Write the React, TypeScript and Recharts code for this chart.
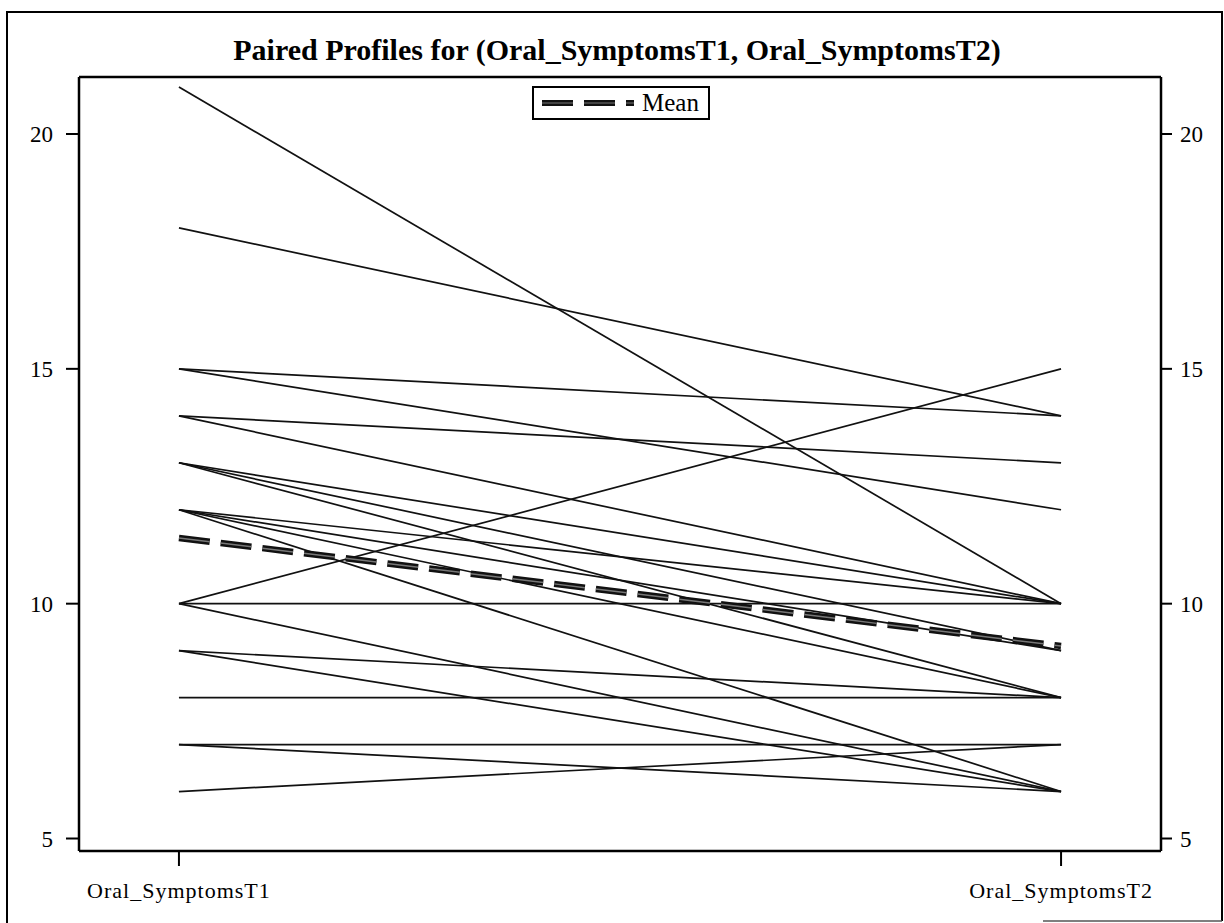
import React from 'react';
import { LineChart, Line, XAxis, YAxis } from 'recharts';

const timeLabels = ['Oral_SymptomsT1', 'Oral_SymptomsT2'];
const t1Values = [21, 18, 15, 15, 14, 14, 13, 13, 13, 12, 12, 12, 12, 10, 10, 10, 9, 9, 8, 7, 7, 6];
const t2Values = [10, 14, 14, 12, 13, 10, 10, 9, 8, 10, 9, 8, 6, 15, 10, 6, 8, 6, 8, 7, 6, 7];
const meanValues = [11.4, 9.1];
const yTicks = [5, 10, 15, 20];
const titleText = 'Paired Profiles for (Oral_SymptomsT1, Oral_SymptomsT2)';
const legendLabel = 'Mean';

const data = timeLabels.map((label, i) => {
  const row: Record<string, number | string> = { x: i, label, mean: meanValues[i] };
  (i === 0 ? t1Values : t2Values).forEach((v, k) => {
    row['s' + k] = v;
  });
  return row;
});

const FONT = "'Liberation Serif', 'Times New Roman', serif";
const Y_DOMAIN: [number, number] = [4.734, 21.214];
const X_DOMAIN: [number, number] = [-0.1133, 1.1133];

const LegendBox = () => (
  <div
    style={{
      position: 'absolute',
      left: 532,
      top: 86,
      border: '2px solid #000',
      background: '#fff',
      width: 174,
      height: 30,
      display: 'flex',
      alignItems: 'center',
      boxSizing: 'content-box',
    }}
  >
    <svg width={100} height={20} style={{ marginLeft: 6 }}>
      <line x1={2} y1={10} x2={94} y2={10} stroke="#111" strokeWidth={6} strokeDasharray="31 11" />
      <line x1={2} y1={10} x2={94} y2={10} stroke="#777" strokeWidth={1.2} strokeDasharray="31 11" />
    </svg>
    <span style={{ fontFamily: FONT, fontSize: 25, color: '#000', marginLeft: 2, lineHeight: '30px' }}>
      {legendLabel}
    </span>
  </div>
);

export default function App() {
  return (
    <div style={{ position: 'absolute', left: 0, top: 0, width: 1224, height: 923, background: '#fff' }}>
      <LineChart
        width={1224}
        height={923}
        data={data}
        margin={{ top: 76, right: 0, bottom: 0, left: 0 }}
      >
        <XAxis
          xAxisId="top"
          orientation="top"
          type="number"
          dataKey="x"
          domain={X_DOMAIN}
          height={1}
          tick={false}
          tickLine={false}
          axisLine={{ stroke: '#000', strokeWidth: 2.5 }}
        />
        <XAxis
          type="number"
          dataKey="x"
          domain={X_DOMAIN}
          ticks={[0, 1]}
          tickFormatter={(v: number) => timeLabels[v] ?? ''}
          height={72}
          tickSize={15}
          tickMargin={16}
          axisLine={{ stroke: '#000', strokeWidth: 2.5 }}
          tickLine={{ stroke: '#000', strokeWidth: 2 }}
          tick={{ fontFamily: FONT, fontSize: 22, fill: '#000', letterSpacing: 1 }}
          interval={0}
        />
        <YAxis
          yAxisId="left"
          type="number"
          domain={Y_DOMAIN}
          ticks={yTicks}
          width={79}
          tickSize={13}
          tickMargin={13}
          axisLine={{ stroke: '#000', strokeWidth: 2.5 }}
          tickLine={{ stroke: '#000', strokeWidth: 2 }}
          tick={{ fontFamily: FONT, fontSize: 23, fill: '#000' }}
          allowDataOverflow
        />
        <YAxis
          yAxisId="right"
          orientation="right"
          type="number"
          domain={Y_DOMAIN}
          ticks={yTicks}
          width={63}
          tickSize={11}
          tickMargin={8}
          axisLine={{ stroke: '#000', strokeWidth: 2.5 }}
          tickLine={{ stroke: '#000', strokeWidth: 2 }}
          tick={{ fontFamily: FONT, fontSize: 23, fill: '#000' }}
          allowDataOverflow
        />
        {t1Values.map((_, k) => (
          <Line
            key={'s' + k}
            yAxisId="left"
            type="linear"
            dataKey={'s' + k}
            stroke="#111"
            strokeWidth={1.7}
            dot={false}
            activeDot={false}
            legendType="none"
            isAnimationActive={false}
          />
        ))}
        <Line
          yAxisId="left"
          type="linear"
          dataKey="mean"
          stroke="#111"
          strokeWidth={6.5}
          strokeDasharray="31 11"
          dot={false}
          activeDot={false}
          legendType="none"
          isAnimationActive={false}
        />
        <Line
          yAxisId="left"
          type="linear"
          dataKey="mean"
          name={legendLabel}
          stroke="#777"
          strokeWidth={1.5}
          strokeDasharray="31 11"
          dot={false}
          activeDot={false}
          isAnimationActive={false}
        />
      </LineChart>
      <LegendBox />
      <svg
        width={1224}
        height={923}
        style={{ position: 'absolute', left: 0, top: 0, pointerEvents: 'none' }}
      >
        <line x1={7} y1={11} x2={7} y2={923} stroke="#000" strokeWidth={2} />
        <line x1={7} y1={12} x2={1222} y2={12} stroke="#000" strokeWidth={2} />
        <line x1={1222} y1={11} x2={1222} y2={921} stroke="#000" strokeWidth={2} />
        <line x1={1043} y1={921} x2={1222} y2={921} stroke="#555" strokeWidth={1.5} />
        <text
          x={617}
          y={60}
          textAnchor="middle"
          fontFamily={FONT}
          fontWeight="bold"
          fontSize={30}
          fill="#000"
        >
          {titleText}
        </text>
      </svg>
    </div>
  );
}
